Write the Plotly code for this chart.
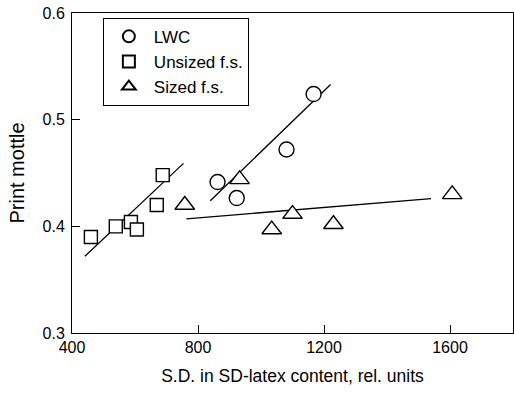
import plotly.graph_objects as go

# Data
lwc_x = [862, 923, 1081, 1167]
lwc_y = [0.4415, 0.4265, 0.472, 0.524]

unsized_x = [460, 539, 587, 606, 669, 688]
unsized_y = [0.390, 0.400, 0.404, 0.397, 0.420, 0.448]

sized_x = [758, 932, 1034, 1100, 1230, 1607]
sized_y = [0.420, 0.444, 0.397, 0.4115, 0.402, 0.430]

# Regression lines (end points)
lwc_fit_x = [839, 1221]
lwc_fit_y = [0.424, 0.533]
unsized_fit_x = [441, 754]
unsized_fit_y = [0.372, 0.459]
sized_fit_x = [763, 1540]
sized_fit_y = [0.407, 0.426]

x_ticks = [400, 800, 1200, 1600]
y_ticks = [0.3, 0.4, 0.5, 0.6]

FONT = "Liberation Sans, Arial, sans-serif"

fig = go.Figure()

for fx, fy in [(lwc_fit_x, lwc_fit_y), (unsized_fit_x, unsized_fit_y), (sized_fit_x, sized_fit_y)]:
    fig.add_trace(go.Scatter(x=fx, y=fy, mode="lines", line=dict(color="black", width=1.3),
                             showlegend=False, hoverinfo="skip"))

mk = dict(color="white", line=dict(color="black", width=1.4))
fig.add_trace(go.Scatter(x=lwc_x, y=lwc_y, mode="markers", name="LWC",
                         marker=dict(symbol="circle", size=15, **mk)))
fig.add_trace(go.Scatter(x=unsized_x, y=unsized_y, mode="markers", name="Unsized f.s.",
                         marker=dict(symbol="square", size=13, **mk)))
fig.add_trace(go.Scatter(x=sized_x, y=sized_y, mode="markers", name="Sized f.s.",
                         marker=dict(symbol="triangle-up", size=17, **mk)))

fig.update_layout(
    width=514, height=394,
    margin=dict(l=72, r=1, t=13, b=61),
    paper_bgcolor="white", plot_bgcolor="white",
    font=dict(family=FONT, size=16, color="black"),
    showlegend=True,
    legend=dict(x=0.07, y=0.985, xanchor="left", yanchor="top",
                bordercolor="black", borderwidth=1, bgcolor="white",
                font=dict(size=17), tracegroupgap=0, itemwidth=40,
                itemsizing="constant"),
    xaxis=dict(range=[400, 1800], tickvals=x_ticks, ticktext=[str(v) for v in x_ticks],
               ticks="inside", ticklen=8, tickcolor="black", showgrid=False, zeroline=False,
               showline=True, linecolor="black", linewidth=1, mirror=True,
               tickfont=dict(size=16),
               title=dict(text="S.D. in SD-latex content, rel. units", standoff=14,
                          font=dict(size=17.5))),
    yaxis=dict(range=[0.3, 0.6], tickvals=y_ticks, ticktext=["0.3", "0.4", "0.5", "0.6"],
               ticks="inside", ticklen=8, tickcolor="black", showgrid=False, zeroline=False,
               showline=True, linecolor="black", linewidth=1, mirror=True,
               tickfont=dict(size=16), ticklabelstandoff=3,
               title=dict(text="Print mottle", standoff=12, font=dict(size=20))),
)

fig.write_html("out.html")
